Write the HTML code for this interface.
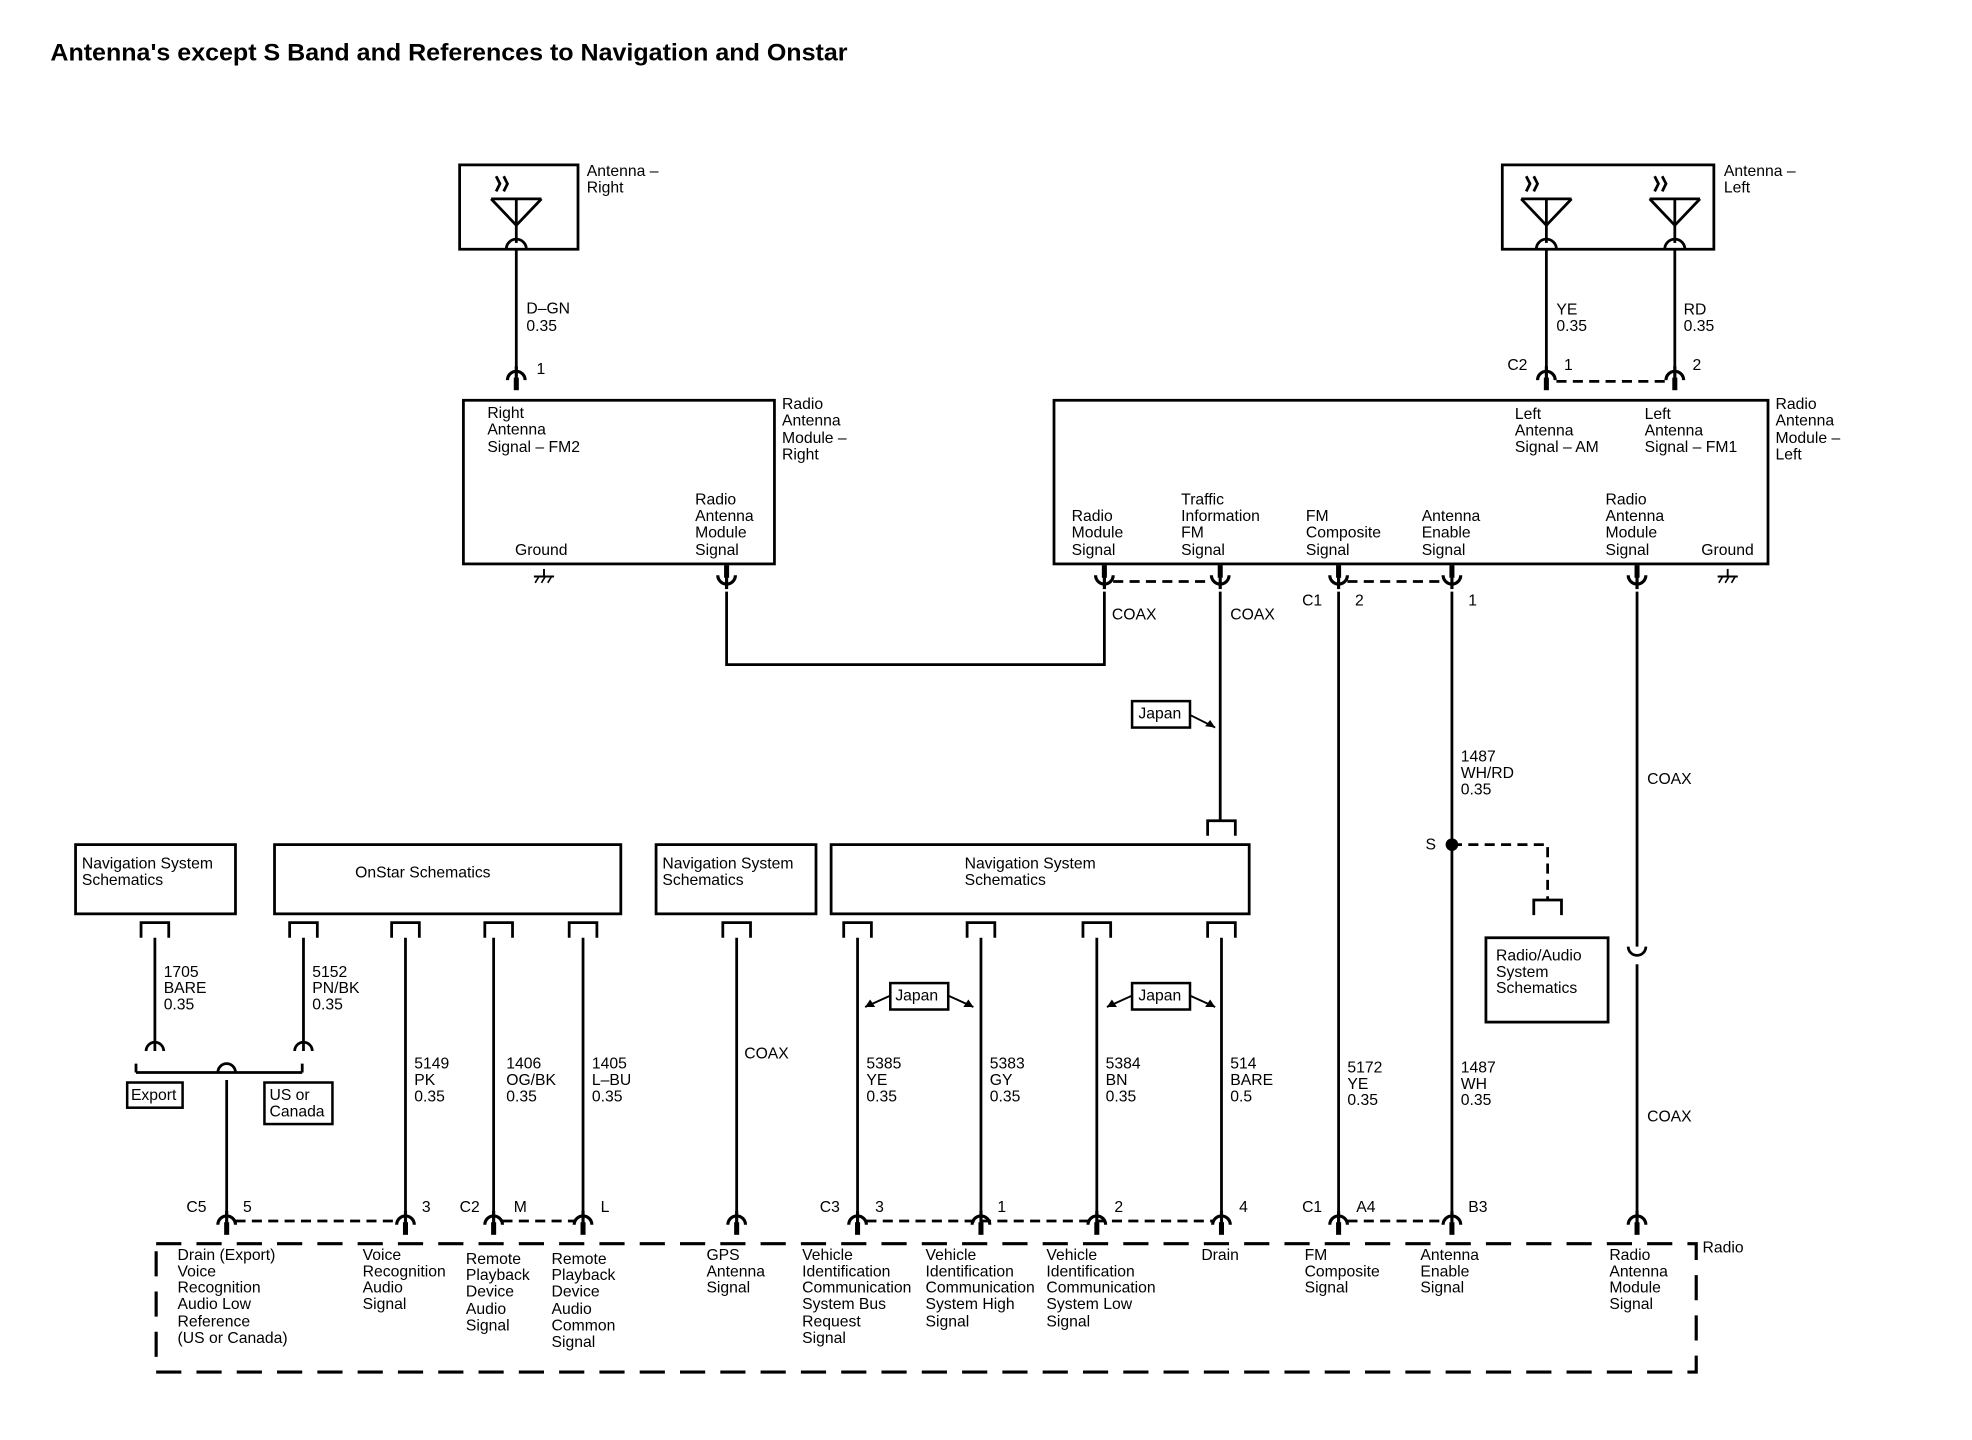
<!DOCTYPE html>
<html><head><meta charset="utf-8"><style>
html,body{margin:0;padding:0;background:#fff}
svg{display:block}
text{font-family:"Liberation Sans",sans-serif;font-size:12.5px;fill:#000}
</style></head><body>
<svg width="1972" height="1440" viewBox="0 0 1566 1144" preserveAspectRatio="none" xmlns="http://www.w3.org/2000/svg">
<defs>
<g id="cu"><path d="M-7,5 A7,7 0 0 1 7,5" fill="none" stroke="#000" stroke-width="2.5"/><line x1="0" y1="-6" x2="0" y2="12" stroke="#000" stroke-width="2.5"/><rect x="-2" y="3" width="4" height="10"/></g>
<g id="cd"><path d="M-7,-5 A7,7 0 0 0 7,-5" fill="none" stroke="#000" stroke-width="2.5"/><line x1="0" y1="-12" x2="0" y2="6" stroke="#000" stroke-width="2.5"/><rect x="-2" y="-13" width="4" height="10"/></g>
<g id="br"><path d="M-11,12 V0 H11 V12" fill="none" stroke="#000" stroke-width="2.2"/></g>
<g id="ant"><line x1="-20" y1="27" x2="20" y2="27" stroke="#000" stroke-width="2.2"/><line x1="-20" y1="27" x2="0" y2="48" stroke="#000" stroke-width="2.2"/><line x1="20" y1="27" x2="0" y2="48" stroke="#000" stroke-width="2.2"/><line x1="0" y1="27" x2="0" y2="62" stroke="#000" stroke-width="2.2"/><path d="M-8,67 A8,8 0 0 1 8,67" fill="none" stroke="#000" stroke-width="2.2"/><path d="M-16,9 L-13,15 L-16,21 M-10,9 L-7,15 L-10,21" fill="none" stroke="#000" stroke-width="2.2"/></g>
<g id="gnd"><line x1="0" y1="0" x2="0" y2="6" stroke="#000" stroke-width="1.5"/><line x1="-8" y1="6" x2="8" y2="6" stroke="#000" stroke-width="1.5"/><path d="M-7,11 L-4,6 M-2,11 L1,6 M3,11 L6,6" stroke="#000" stroke-width="1.3"/></g>
</defs>
<text x="40" y="48" textLength="633" lengthAdjust="spacingAndGlyphs" style="font-size:19px;font-weight:bold">Antenna's except S Band and References to Navigation and Onstar</text>

<g fill="none" stroke="#000" stroke-width="2.2">
<rect x="365" y="131" width="94" height="67"/>
<rect x="1193" y="131" width="168" height="67"/>
<rect x="368" y="318" width="247" height="130"/>
<rect x="837" y="318" width="567" height="130"/>
<rect x="60" y="671" width="127" height="55"/>
<rect x="218" y="671" width="275" height="55"/>
<rect x="521" y="671" width="127" height="55"/>
<rect x="660" y="671" width="332" height="55"/>
<rect x="1180" y="745" width="97" height="67"/>
<rect x="899" y="557" width="46" height="21" stroke-width="2"/>
<rect x="707" y="781" width="46" height="21" stroke-width="2"/>
<rect x="899" y="781" width="46" height="21" stroke-width="2"/>
<rect x="101" y="860" width="44" height="20" stroke-width="2"/>
<rect x="210" y="860" width="54" height="33" stroke-width="2"/>
<path d="M410,198 V296 M1228,198 V296 M1330,198 V296"/>
<path d="M577,470 V528 H877 V470"/>
<path d="M969,470 V652 M1063,470 V965 M1153,470 V965 M1300,470 V752 M1300,766 V965"/>
<path d="M123,745 V835 M241,745 V835 M180,858 V965 M322,745 V965 M392,745 V965 M463,745 V965 M585,745 V965 M681,745 V965 M779,745 V965 M871,745 V965 M970,745 V965"/>
<path d="M108,852 H240 M108,845 V852 M240,845 V852 M173,852 A7,7 0 0 1 187,852"/>
<path d="M116,835 A7,7 0 0 1 130,835 M234,835 A7,7 0 0 1 248,835"/>
<path d="M1293,752 A7,7 0 0 0 1307,752"/>
<g stroke-dasharray="8,5" stroke-width="2.2">
<path d="M1236,303 H1322 M884,462 H962 M1070,462 H1146"/>
<path d="M1153,671 H1229 V715"/>
<path d="M187,970 H315 M399,970 H456 M688,970 H963 M1070,970 H1146"/>
</g>
<path d="M124,988 H1347 V1090 H124 Z" stroke-dasharray="20,12" stroke-width="2.5"/>
<path d="M945,568 L965,578 M687,800 L707,791 M753,791 L773,800 M879,800 L899,791 M945,791 L965,800" stroke-width="1.5"/>
</g>
<path d="M965,578 l-8,-1 l4,-5z M687,800 l8,0 l-4,-6z M773,800 l-8,0 l4,-6z M879,800 l8,0 l-4,-6z M965,800 l-8,0 l4,-6z"/>
<circle cx="1153" cy="671" r="5"/>

<use href="#ant" x="410" y="131"/><use href="#ant" x="1228" y="131"/><use href="#ant" x="1330" y="131"/>
<use href="#cu" x="410" y="297"/><use href="#cu" x="1228" y="297"/><use href="#cu" x="1330" y="297"/>
<use href="#cd" x="577" y="462"/><use href="#cd" x="877" y="462"/><use href="#cd" x="969" y="462"/><use href="#cd" x="1063" y="462"/><use href="#cd" x="1153" y="462"/><use href="#cd" x="1300" y="462"/>
<use href="#gnd" x="432" y="452"/><use href="#gnd" x="1372" y="452"/>
<use href="#br" x="970" y="652"/><use href="#br" x="1229" y="715"/>
<g><use href="#br" x="123" y="733"/><use href="#br" x="241" y="733"/><use href="#br" x="322" y="733"/><use href="#br" x="396" y="733"/><use href="#br" x="463" y="733"/><use href="#br" x="585" y="733"/><use href="#br" x="681" y="733"/><use href="#br" x="779" y="733"/><use href="#br" x="871" y="733"/><use href="#br" x="970" y="733"/></g>
<g><use href="#cu" x="180" y="968"/><use href="#cu" x="322" y="968"/><use href="#cu" x="392" y="968"/><use href="#cu" x="463" y="968"/><use href="#cu" x="585" y="968"/><use href="#cu" x="681" y="968"/><use href="#cu" x="779" y="968"/><use href="#cu" x="871" y="968"/><use href="#cu" x="970" y="968"/><use href="#cu" x="1063" y="968"/><use href="#cu" x="1153" y="968"/><use href="#cu" x="1300" y="968"/></g>

<g>
<text x="466" y="140">Antenna –</text><text x="466" y="153">Right</text>
<text x="1369" y="140">Antenna –</text><text x="1369" y="153">Left</text>
<text x="418" y="249">D–GN</text><text x="418" y="263">0.35</text><text x="426" y="297">1</text>
<text x="1236" y="250">YE</text><text x="1236" y="263">0.35</text>
<text x="1337" y="250">RD</text><text x="1337" y="263">0.35</text>
<text x="1197" y="294">C2</text><text x="1242" y="294">1</text><text x="1344" y="294">2</text>
<text x="387" y="332">Right</text><text x="387" y="345">Antenna</text><text x="387" y="359">Signal – FM2</text>
<text x="409" y="441">Ground</text>
<text x="552" y="401">Radio</text><text x="552" y="414">Antenna</text><text x="552" y="427">Module</text><text x="552" y="441">Signal</text>
<text x="621" y="325">Radio</text><text x="621" y="338">Antenna</text><text x="621" y="352">Module –</text><text x="621" y="365">Right</text>
<text x="1410" y="325">Radio</text><text x="1410" y="338">Antenna</text><text x="1410" y="352">Module –</text><text x="1410" y="365">Left</text>
<text x="1203" y="333">Left</text><text x="1203" y="346">Antenna</text><text x="1203" y="359">Signal – AM</text>
<text x="1306" y="333">Left</text><text x="1306" y="346">Antenna</text><text x="1306" y="359">Signal – FM1</text>
<text x="851" y="414">Radio</text><text x="851" y="427">Module</text><text x="851" y="441">Signal</text>
<text x="938" y="401">Traffic</text><text x="938" y="414">Information</text><text x="938" y="427">FM</text><text x="938" y="441">Signal</text>
<text x="1037" y="414">FM</text><text x="1037" y="427">Composite</text><text x="1037" y="441">Signal</text>
<text x="1129" y="414">Antenna</text><text x="1129" y="427">Enable</text><text x="1129" y="441">Signal</text>
<text x="1275" y="401">Radio</text><text x="1275" y="414">Antenna</text><text x="1275" y="427">Module</text><text x="1275" y="441">Signal</text>
<text x="1351" y="441">Ground</text>
<text x="883" y="492">COAX</text><text x="977" y="492">COAX</text>
<text x="1034" y="481">C1</text><text x="1076" y="481">2</text><text x="1166" y="481">1</text>
<text x="904" y="571">Japan</text>
<text x="1160" y="605">1487</text><text x="1160" y="618">WH/RD</text><text x="1160" y="631">0.35</text>
<text x="1308" y="623">COAX</text><text x="1132" y="675">S</text>
<text x="1188" y="763">Radio/Audio</text><text x="1188" y="776">System</text><text x="1188" y="789">Schematics</text>
<text x="65" y="690">Navigation System</text><text x="65" y="703">Schematics</text>
<text x="282" y="697">OnStar Schematics</text>
<text x="526" y="690">Navigation System</text><text x="526" y="703">Schematics</text>
<text x="766" y="690">Navigation System</text><text x="766" y="703">Schematics</text>
<text x="130" y="776">1705</text><text x="130" y="789">BARE</text><text x="130" y="802">0.35</text>
<text x="248" y="776">5152</text><text x="248" y="789">PN/BK</text><text x="248" y="802">0.35</text>
<text x="104" y="874">Export</text><text x="214" y="874">US or</text><text x="214" y="887">Canada</text>
<text x="329" y="849">5149</text><text x="329" y="862">PK</text><text x="329" y="875">0.35</text>
<text x="402" y="849">1406</text><text x="402" y="862">OG/BK</text><text x="402" y="875">0.35</text>
<text x="470" y="849">1405</text><text x="470" y="862">L–BU</text><text x="470" y="875">0.35</text>
<text x="591" y="841">COAX</text>
<text x="711" y="795">Japan</text><text x="904" y="795">Japan</text>
<text x="688" y="849">5385</text><text x="688" y="862">YE</text><text x="688" y="875">0.35</text>
<text x="786" y="849">5383</text><text x="786" y="862">GY</text><text x="786" y="875">0.35</text>
<text x="878" y="849">5384</text><text x="878" y="862">BN</text><text x="878" y="875">0.35</text>
<text x="977" y="849">514</text><text x="977" y="862">BARE</text><text x="977" y="875">0.5</text>
<text x="1070" y="852">5172</text><text x="1070" y="865">YE</text><text x="1070" y="878">0.35</text>
<text x="1160" y="852">1487</text><text x="1160" y="865">WH</text><text x="1160" y="878">0.35</text>
<text x="1308" y="891">COAX</text>
<text x="148" y="963">C5</text><text x="193" y="963">5</text><text x="335" y="963">3</text><text x="365" y="963">C2</text><text x="408" y="963">M</text><text x="477" y="963">L</text>
<text x="651" y="963">C3</text><text x="695" y="963">3</text><text x="792" y="963">1</text><text x="885" y="963">2</text><text x="984" y="963">4</text>
<text x="1034" y="963">C1</text><text x="1077" y="963">A4</text><text x="1166" y="963">B3</text>
<text x="1352" y="995">Radio</text>
<text x="141" y="1001">Drain (Export)</text><text x="141" y="1014">Voice</text><text x="141" y="1027">Recognition</text><text x="141" y="1040">Audio Low</text><text x="141" y="1054">Reference</text><text x="141" y="1067">(US or Canada)</text>
<text x="288" y="1001">Voice</text><text x="288" y="1014">Recognition</text><text x="288" y="1027">Audio</text><text x="288" y="1040">Signal</text>
<text x="370" y="1004">Remote</text><text x="370" y="1017">Playback</text><text x="370" y="1030">Device</text><text x="370" y="1044">Audio</text><text x="370" y="1057">Signal</text>
<text x="438" y="1004">Remote</text><text x="438" y="1017">Playback</text><text x="438" y="1030">Device</text><text x="438" y="1044">Audio</text><text x="438" y="1057">Common</text><text x="438" y="1070">Signal</text>
<text x="561" y="1001">GPS</text><text x="561" y="1014">Antenna</text><text x="561" y="1027">Signal</text>
<text x="637" y="1001">Vehicle</text><text x="637" y="1014">Identification</text><text x="637" y="1027">Communication</text><text x="637" y="1040">System Bus</text><text x="637" y="1054">Request</text><text x="637" y="1067">Signal</text>
<text x="735" y="1001">Vehicle</text><text x="735" y="1014">Identification</text><text x="735" y="1027">Communication</text><text x="735" y="1040">System High</text><text x="735" y="1054">Signal</text>
<text x="831" y="1001">Vehicle</text><text x="831" y="1014">Identification</text><text x="831" y="1027">Communication</text><text x="831" y="1040">System Low</text><text x="831" y="1054">Signal</text>
<text x="954" y="1001">Drain</text>
<text x="1036" y="1001">FM</text><text x="1036" y="1014">Composite</text><text x="1036" y="1027">Signal</text>
<text x="1128" y="1001">Antenna</text><text x="1128" y="1014">Enable</text><text x="1128" y="1027">Signal</text>
<text x="1278" y="1001">Radio</text><text x="1278" y="1014">Antenna</text><text x="1278" y="1027">Module</text><text x="1278" y="1040">Signal</text>
</g>
</svg>
</body></html>
